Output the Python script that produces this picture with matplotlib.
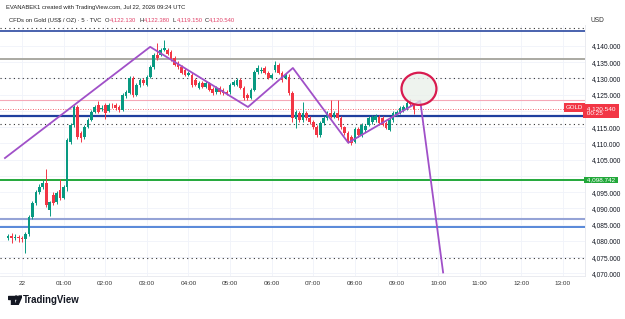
import numpy as np
import matplotlib.pyplot as plt
from matplotlib.patches import Ellipse, Polygon, Circle

plt.rcParams['font.family'] = ['Liberation Sans', 'DejaVu Sans']

# 5 minute candles, index 0 = 00:00 on Jul 22
candle_idx = np.arange(-4, 114)
opens = [4081.0, 4081.5, 4080.8, 4081.3, 4080.9, 4080.5, 4082.2, 4087.4, 4091.7, 4095.1,
         4096.6, 4097.8, 4089.4, 4094.2, 4092.0, 4095.7, 4093.2, 4096.6, 4110.5, 4115.7,
         4121.2, 4113.2, 4112.0, 4115.1, 4117.2, 4119.7, 4121.8, 4120.6, 4121.8, 4120.0,
         4121.6, 4121.8, 4121.2, 4120.3, 4124.5, 4125.5, 4130.2, 4124.9, 4128.0, 4129.5,
         4128.0, 4130.5, 4133.5, 4137.2, 4137.2, 4138.8, 4138.8, 4138.2, 4136.3, 4134.8,
         4133.5, 4132.6, 4131.1, 4131.1, 4129.5, 4127.1, 4128.6, 4127.4, 4128.6, 4126.8,
         4125.8, 4127.1, 4126.5, 4125.8, 4125.8, 4128.0, 4128.0, 4129.5, 4127.1, 4124.9,
         4124.0, 4126.5, 4132.0, 4132.4, 4133.2, 4131.7, 4130.2, 4132.6, 4134.2, 4131.7,
         4130.2, 4130.5, 4125.5, 4117.5, 4119.4, 4117.2, 4119.4, 4117.8, 4116.6, 4115.1,
         4112.6, 4116.3, 4117.8, 4119.4, 4118.2, 4119.4, 4117.8, 4115.0, 4113.2, 4112.0,
         4110.5, 4114.5, 4112.5, 4114.0, 4115.7, 4116.6, 4117.2, 4118.2, 4117.8, 4116.3,
         4114.2, 4117.2, 4118.8, 4119.4, 4120.3, 4120.9, 4122.6, 4122.13]
highs = [4082.0, 4082.3, 4082.0, 4081.8, 4081.5, 4082.8, 4088.0, 4092.3, 4095.8, 4097.4,
         4098.6, 4102.2, 4092.4, 4095.0, 4095.3, 4099.0, 4097.3, 4111.6, 4116.3, 4121.9,
         4121.9, 4113.8, 4115.6, 4117.8, 4120.3, 4121.9, 4123.0, 4121.7, 4122.4, 4122.4,
         4122.3, 4122.5, 4121.8, 4125.4, 4126.4, 4130.8, 4130.7, 4128.6, 4130.1, 4130.2,
         4131.0, 4134.0, 4137.7, 4140.9, 4139.3, 4141.8, 4139.4, 4138.8, 4136.8, 4135.3,
         4134.0, 4133.2, 4132.3, 4131.8, 4130.0, 4129.2, 4129.1, 4129.1, 4129.0, 4127.3,
         4127.6, 4127.6, 4127.0, 4126.3, 4128.5, 4129.4, 4130.0, 4130.0, 4127.6, 4125.4,
         4127.0, 4132.5, 4134.2, 4133.4, 4133.7, 4132.2, 4131.6, 4135.4, 4134.8, 4132.2,
         4131.6, 4131.2, 4126.0, 4120.2, 4120.0, 4122.8, 4120.0, 4118.4, 4117.2, 4115.6,
         4116.8, 4118.3, 4119.9, 4123.4, 4119.9, 4123.4, 4118.3, 4115.5, 4113.7, 4112.5,
         4115.0, 4115.0, 4116.2, 4116.0, 4118.3, 4118.7, 4119.0, 4118.7, 4118.3, 4116.8,
         4117.7, 4119.9, 4120.2, 4121.4, 4121.7, 4123.0, 4123.6, 4122.38]
lows = [4080.3, 4079.5, 4080.2, 4079.8, 4079.6, 4076.3, 4081.5, 4086.8, 4091.0, 4094.5,
        4096.0, 4090.4, 4087.6, 4091.0, 4091.4, 4092.6, 4092.8, 4095.5, 4109.9, 4115.0,
        4111.4, 4110.4, 4111.5, 4114.6, 4116.8, 4119.2, 4119.2, 4119.9, 4117.5, 4119.6,
        4120.8, 4120.3, 4119.8, 4119.9, 4124.0, 4125.1, 4124.4, 4124.5, 4127.5, 4127.9,
        4127.6, 4130.0, 4133.0, 4135.8, 4136.8, 4138.3, 4137.1, 4135.5, 4133.8, 4133.0,
        4131.2, 4130.6, 4130.6, 4127.5, 4127.6, 4126.6, 4126.9, 4127.0, 4126.0, 4125.0,
        4125.3, 4125.3, 4125.0, 4125.0, 4125.3, 4127.6, 4127.6, 4126.6, 4123.5, 4123.4,
        4123.6, 4126.0, 4131.5, 4131.8, 4131.2, 4129.7, 4129.8, 4132.1, 4131.2, 4129.0,
        4129.7, 4125.0, 4116.5, 4114.8, 4116.7, 4116.7, 4117.3, 4116.1, 4114.4, 4112.1,
        4112.1, 4115.8, 4117.3, 4117.7, 4117.7, 4117.3, 4114.5, 4112.7, 4110.0, 4109.5,
        4110.0, 4112.0, 4112.0, 4113.5, 4115.2, 4116.1, 4116.7, 4115.8, 4115.2, 4114.3,
        4113.7, 4116.7, 4118.3, 4118.9, 4119.8, 4120.4, 4121.6, 4119.15]
closes = [4081.5, 4080.8, 4081.3, 4080.9, 4080.5, 4082.2, 4087.4, 4091.7, 4095.1, 4096.6,
          4097.8, 4091.1, 4091.9, 4091.7, 4094.8, 4093.2, 4096.6, 4111.1, 4115.7, 4121.2,
          4112.0, 4111.7, 4115.1, 4117.2, 4119.7, 4121.2, 4119.7, 4121.0, 4119.4, 4121.8,
          4121.4, 4120.9, 4120.3, 4124.9, 4125.8, 4130.2, 4124.9, 4128.0, 4129.5, 4128.5,
          4130.5, 4133.5, 4137.2, 4136.2, 4138.8, 4139.5, 4137.6, 4136.0, 4134.2, 4133.5,
          4131.7, 4131.1, 4131.7, 4128.0, 4128.0, 4128.6, 4127.4, 4128.6, 4126.5, 4125.5,
          4127.1, 4125.8, 4125.5, 4125.5, 4128.0, 4128.9, 4129.5, 4127.1, 4124.0, 4124.0,
          4126.5, 4132.0, 4133.2, 4132.6, 4131.7, 4130.2, 4131.1, 4134.2, 4131.7, 4129.5,
          4131.1, 4125.5, 4117.8, 4119.7, 4117.2, 4119.4, 4117.8, 4116.6, 4114.9, 4112.6,
          4116.3, 4117.8, 4119.4, 4118.2, 4119.4, 4117.8, 4115.0, 4113.2, 4110.5, 4110.2,
          4114.5, 4112.5, 4115.7, 4115.4, 4117.8, 4118.2, 4118.5, 4116.3, 4115.7, 4114.8,
          4117.2, 4119.4, 4119.7, 4120.9, 4121.2, 4122.5, 4122.1, 4120.54]

# purple zig-zag drawing (hours, price)
trend_t = [-0.41, 3.08, 5.43, 6.51, 7.84, 9.57, 10.12]
trend_p = [4105.5, 4139.7, 4121.2, 4133.2, 4110.2, 4123.1, 4070.3]

# horizontal levels
solid_levels = [4144.7, 4136.1, 4123.3, 4118.3, 4098.742, 4086.7, 4084.4]
solid_colors = ['#3a56a8', '#aaa9a2', '#f5a9b8', '#1f3f9e', '#22a83a', '#95a3d6', '#4b7fd6']
solid_widths = [1.3, 1.4, 0.8, 1.6, 1.4, 1.5, 1.3]
dotted_levels = [4145.6, 4130.0, 4116.0, 4074.7]

price_ticks = list(range(4070, 4141, 5))
hidden_ticks = [4100, 4120]   # covered by the price boxes
time_labels = ['22', '01:00', '02:00', '03:00', '04:00', '05:00', '06:00',
               '07:00', '08:00', '09:00', '10:00', '11:00', '12:00', '13:00']

up = '#089981'
down = '#f23645'

fig = plt.figure(figsize=(6.25, 3.19), dpi=100)
ax = fig.add_axes([0, 0.135, 0.936, 0.787])

t = candle_idx / 12.0
o = np.array(opens)
c = np.array(closes)
cols = [up if cc >= oo else down for oo, cc in zip(o, c)]

# grid
for h in range(0, 14):
    ax.axvline(h, color='#f0f3fa', lw=0.6, zorder=0)
for p in price_ticks:
    ax.axhline(p, color='#f0f3fa', lw=0.6, zorder=0)

for lv, col, lw in zip(solid_levels, solid_colors, solid_widths):
    ax.axhline(lv, color=col, lw=lw, zorder=1)
for lv in dotted_levels:
    ax.axhline(lv, color='#333333', lw=0.8, ls=(0, (1, 3)), zorder=1)
ax.axhline(closes[-1], color=down, lw=0.6, ls=(0, (1, 2)), zorder=1)

ax.vlines(t, lows, highs, colors=cols, lw=0.7, zorder=3)
body = np.maximum(np.abs(c - o), 0.15)
ax.bar(t, body, bottom=np.minimum(o, c), width=0.064, color=cols, zorder=3)

ax.plot(trend_t, trend_p, color='#a050c8', lw=1.3, zorder=4)

circ = Ellipse((9.54, 4126.8), 0.84, 9.9, facecolor='#e9efe9', alpha=0.75,
               edgecolor='none', zorder=5)
ax.add_patch(circ)
circ2 = Ellipse((9.54, 4126.8), 0.84, 9.9, facecolor='none',
                edgecolor='#d81b4f', lw=1.6, zorder=6)
ax.add_patch(circ2)

ax.set_xlim(-0.529, 13.53)
ax.set_ylim(4069.23, 4146.46)

ax.set_xticks(range(0, 14))
ax.set_xticklabels(time_labels, fontsize=4.6, color='#333333')
ax.yaxis.tick_right()
ax.set_yticks(price_ticks)
ax.set_yticklabels(['' if p in hidden_ticks else '{:,.3f}'.format(p) for p in price_ticks],
                   fontsize=4.8, color='#131722')
ax.tick_params(axis='both', length=0)
ax.tick_params(axis='x', pad=4)
ax.tick_params(axis='y', pad=5)
for s in ['top', 'left']:
    ax.spines[s].set_visible(False)
ax.spines['bottom'].set_color('#e6e8ee')
ax.spines['right'].set_color('#e6e8ee')
ax.spines['bottom'].set_linewidth(0.6)
ax.spines['right'].set_linewidth(0.6)

# price labels on axis
ax.text(1.0, 4098.742, ' 4,098.742 ', transform=ax.get_yaxis_transform(), fontsize=4.6,
        color='white', va='center', ha='left', zorder=10, clip_on=False,
        bbox=dict(boxstyle='square,pad=0.15', fc='#22a83a', ec='none'))
ax.text(1.0, closes[-1] - 0.6, ' 4,120.540 \n 00:25', transform=ax.get_yaxis_transform(),
        fontsize=4.6, color='white', va='center', ha='left', zorder=10, clip_on=False,
        linespacing=1.1, bbox=dict(boxstyle='square,pad=0.25', fc='#f23645', ec='none'))
ax.text(0.997, closes[-1] + 0.5, 'GOLD', transform=ax.get_yaxis_transform(), fontsize=4.4,
        color='white', va='center', ha='right', zorder=10, clip_on=False,
        bbox=dict(boxstyle='square,pad=0.25', fc='#f23645', ec='none'))
fig.text(0.945, 0.935, 'USD', fontsize=4.8, color='#333333', va='center')

# header
fig.text(0.009, 0.978, 'EVANABEK1 created with TradingView.com, Jul 22, 2026 09:24 UTC',
         fontsize=4.2, color='#222222', va='center')
fig.text(0.014, 0.937, 'CFDs on Gold (US$ / OZ) · 5 · TVC', fontsize=4.2,
         color='#222222', va='center')
ohlc = [('O', '4,122.130'), ('H', '4,122.380'), ('L', '4,119.150'), ('C', '4,120.540')]
ox = [0.168, 0.223, 0.276, 0.327]
for (k, v), xx in zip(ohlc, ox):
    fig.text(xx, 0.937, k, fontsize=4.2, color='#222222', va='center')
    fig.text(xx + 0.0075, 0.937, v, fontsize=4.2, color='#e0446a', va='center')

# footer logo mark (drawn) and name
lg = fig.add_axes([8 / 625, 1 - 305 / 319, 14 / 625, 10 / 319])
lg.set_xlim(0, 14)
lg.set_ylim(10, 0)
lg.axis('off')
lg.add_patch(Polygon([(0, 1), (6, 1), (6, 10), (3, 10), (3, 4), (0, 4)], color='#131722'))
lg.add_patch(Circle((8.2, 2.6), 1.6, color='#131722'))
lg.add_patch(Polygon([(11, 1), (14, 1), (10, 10), (7, 10)], color='#131722'))
fig.text(0.036, 0.06, 'TradingView', fontsize=6.9, color='#131722', va='center',
         weight='bold')

fig.savefig('out.png', dpi=100, facecolor='white')
